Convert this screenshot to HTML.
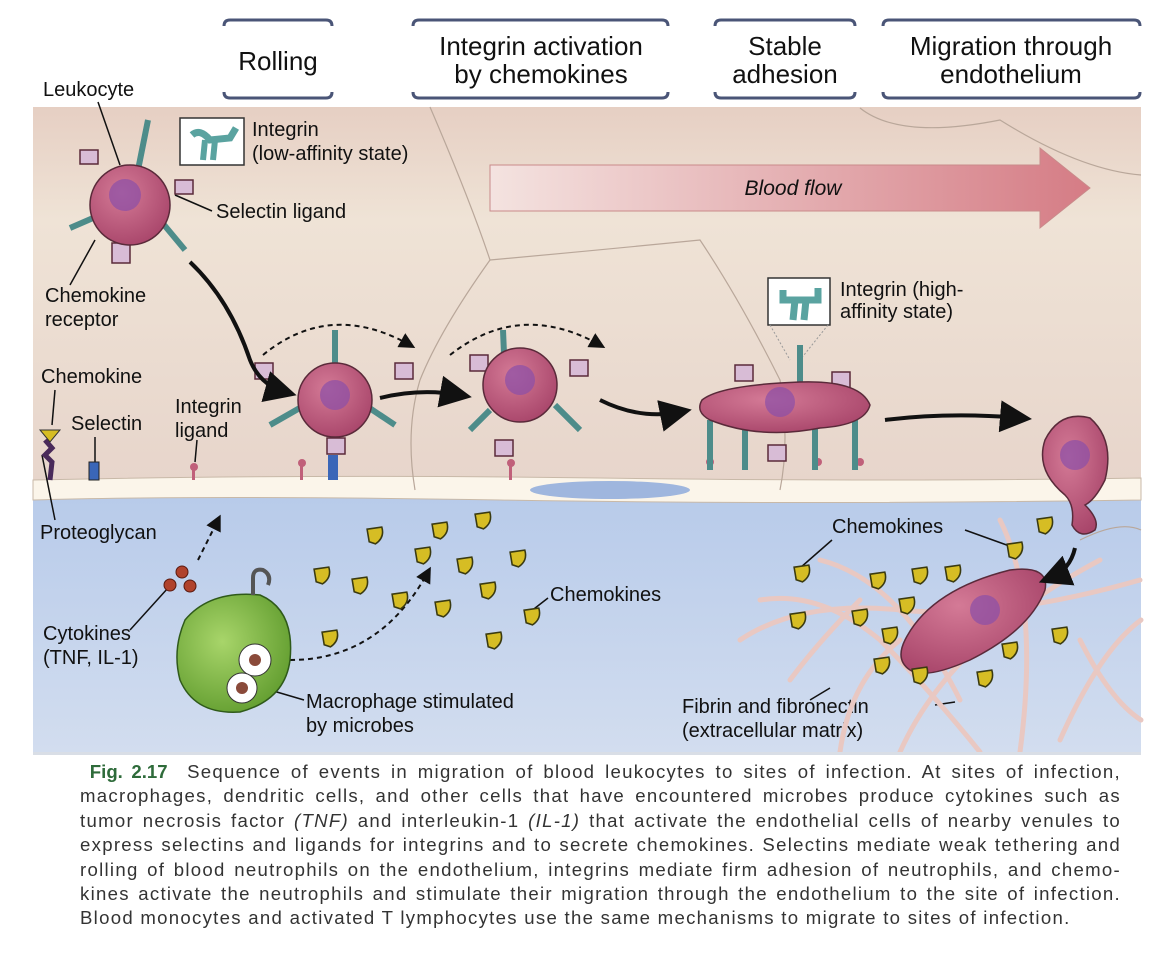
<!DOCTYPE html>
<html><head><meta charset="utf-8"><style>
body{margin:0;background:#fff;width:1152px;height:958px;overflow:hidden;font-family:"Liberation Sans",sans-serif}
svg{position:absolute;left:0;top:0}
.cap{position:absolute;left:80px;top:760px;width:1041px;font-size:18.6px;letter-spacing:1.28px;line-height:24.4px;color:#333}
.cap div{text-align:justify;text-align-last:justify;white-space:nowrap}
.cap div.l{text-align-last:left}
.cap b{color:#2e6b3a;letter-spacing:0}
</style></head><body>
<svg width="1152" height="958" viewBox="0 0 1152 958" font-family="Liberation Sans, sans-serif">
<defs>
<linearGradient id="lum" x1="0" y1="0" x2="0" y2="1"><stop offset="0" stop-color="#e6cfc3"/><stop offset="0.3" stop-color="#efe3d6"/><stop offset="1" stop-color="#e7d5cb"/></linearGradient>
<linearGradient id="tis" x1="0" y1="0" x2="0" y2="1"><stop offset="0" stop-color="#b8cbea"/><stop offset="1" stop-color="#d2ddef"/></linearGradient>
<linearGradient id="flow" x1="0" y1="0" x2="1" y2="0"><stop offset="0" stop-color="#f4e3e0"/><stop offset="1" stop-color="#d57c85"/></linearGradient>
<radialGradient id="cell" cx="0.4" cy="0.35" r="0.7"><stop offset="0" stop-color="#d47a96"/><stop offset="1" stop-color="#a8456a"/></radialGradient>
<radialGradient id="mac" cx="0.4" cy="0.4" r="0.7"><stop offset="0" stop-color="#a8d56a"/><stop offset="1" stop-color="#5e9a2c"/></radialGradient>
<symbol id="ck" viewBox="0 0 20 20"><path d="M2 4 L16 2 Q19 12 10 18 L4 16 Z" fill="#d6bd24" stroke="#3a3a10" stroke-width="1.5"/></symbol>
<marker id="ah" markerWidth="8" markerHeight="8" refX="5" refY="4" orient="auto"><path d="M0 0 L8 4 L0 8 Z" fill="#111"/></marker>
</defs>
<g fill="none" stroke="#4a5577" stroke-width="3">
<path d="M224 26 Q224 20 230 20 L326 20 Q332 20 332 26"/><path d="M224 92 Q224 98 230 98 L326 98 Q332 98 332 92"/>
<path d="M413 26 Q413 20 419 20 L662 20 Q668 20 668 26"/><path d="M413 92 Q413 98 419 98 L662 98 Q668 98 668 92"/>
<path d="M715 26 Q715 20 721 20 L849 20 Q855 20 855 26"/><path d="M715 92 Q715 98 721 98 L849 98 Q855 98 855 92"/>
<path d="M883 26 Q883 20 889 20 L1134 20 Q1140 20 1140 26"/><path d="M883 92 Q883 98 889 98 L1134 98 Q1140 98 1140 92"/>
</g>
<g font-size="26" fill="#111" text-anchor="middle">
<text x="278" y="70">Rolling</text>
<text x="541" y="55">Integrin activation</text><text x="541" y="83">by chemokines</text>
<text x="785" y="55">Stable</text><text x="785" y="83">adhesion</text>
<text x="1011" y="55">Migration through</text><text x="1011" y="83">endothelium</text>
</g>
<rect x="33" y="107" width="1108" height="375" fill="url(#lum)"/>
<rect x="33" y="498" width="1108" height="254" fill="url(#tis)"/>
<path d="M33 480 Q300 474 600 478 T1141 478 L1141 500 Q800 505 500 500 T33 500 Z" fill="#fbf5ea" stroke="#c8b9a8"/>
<ellipse cx="610" cy="490" rx="80" ry="9" fill="#9fb6de"/>
<g fill="none" stroke="#b9a79a" stroke-width="1.2">
<path d="M430 107 Q470 200 490 260 Q440 330 420 380 Q405 430 415 490"/>
<path d="M490 260 Q600 250 700 240 Q740 300 780 380 Q790 440 780 490"/>
<path d="M860 108 Q900 140 1000 120 Q1080 170 1141 175"/>
<path d="M1080 540 Q1120 520 1141 530"/>
</g>
<path d="M490 165 L1040 165 L1040 148 L1090 188 L1040 228 L1040 211 L490 211 Z" fill="url(#flow)" stroke="#c98a8a"/>
<text x="793" y="195" font-size="21" font-style="italic" text-anchor="middle" fill="#111">Blood flow</text>
<rect x="180" y="118" width="64" height="47" fill="#fff" stroke="#333" stroke-width="1.5"/>
<path d="M192 135 Q200 128 210 140 L230 138 L236 128" fill="none" stroke="#5aa3a0" stroke-width="7"/>
<path d="M205 140 L203 160 M215 140 L213 160" stroke="#5aa3a0" stroke-width="6"/>
<rect x="768" y="278" width="62" height="47" fill="#fff" stroke="#333" stroke-width="1.5"/>
<path d="M783 290 L783 300 L818 300 L818 288 M795 300 L793 320 M806 300 L804 320" fill="none" stroke="#5aa3a0" stroke-width="7"/>
<path d="M770 325 L790 360 M828 325 L800 360" stroke="#999" stroke-dasharray="2 2"/>
<g font-size="20" fill="#111">
<text x="252" y="136">Integrin</text><text x="252" y="160">(low-affinity state)</text>
<text x="840" y="296">Integrin (high-</text><text x="840" y="318">affinity state)</text>
<text x="43" y="96">Leukocyte</text>
<text x="216" y="218">Selectin ligand</text>
<text x="45" y="302">Chemokine</text><text x="45" y="326">receptor</text>
<text x="41" y="383">Chemokine</text>
<text x="71" y="430">Selectin</text>
<text x="175" y="413">Integrin</text><text x="175" y="437">ligand</text>
<text x="40" y="539">Proteoglycan</text>
<text x="43" y="640">Cytokines</text><text x="43" y="664">(TNF, IL-1)</text>
<text x="306" y="708">Macrophage stimulated</text><text x="306" y="732">by microbes</text>
<text x="550" y="601">Chemokines</text>
<text x="832" y="533">Chemokines</text>
<text x="682" y="713">Fibrin and fibronectin</text><text x="682" y="737">(extracellular matrix)</text>
</g>
<g stroke="#111" stroke-width="1.5" fill="none">
<path d="M98 102 L120 165"/><path d="M175 195 L212 211"/><path d="M95 240 L70 285"/>
<path d="M55 390 L52 425"/><path d="M95 437 L95 462"/><path d="M197 440 L195 462"/>
<path d="M42 455 L55 520"/><path d="M168 588 L130 630"/><path d="M270 690 L304 700"/>
<path d="M548 598 L530 612"/><path d="M832 540 L800 568"/><path d="M965 530 L1015 548"/>
<path d="M810 700 L830 688"/><path d="M935 705 L955 702"/>
</g>
<g fill="none" stroke="#e9c8c2" stroke-width="5" stroke-linecap="round">
<path d="M740 640 Q800 600 900 610 Q1000 620 1140 580"/><path d="M760 600 Q820 590 880 640 Q930 690 980 752"/>
<path d="M820 560 Q900 580 960 700"/><path d="M1000 520 Q1040 600 1020 752"/><path d="M900 752 Q950 640 1100 560"/>
<path d="M840 752 Q850 680 900 640"/><path d="M1060 740 Q1100 650 1141 620"/><path d="M790 680 Q820 640 860 600"/>
<path d="M1080 640 Q1110 700 1141 720"/>
</g>
<rect x="89" y="462" width="10" height="18" fill="#3a66b8" stroke="#222"/>
<rect x="328" y="455" width="10" height="25" fill="#3a66b8"/>
<g fill="#c0607a"><circle cx="194" cy="467" r="4"/><rect x="192" y="468" width="3" height="12"/><circle cx="302" cy="463" r="4"/><rect x="300" y="463" width="3" height="17"/><circle cx="511" cy="463" r="4"/><rect x="509" y="463" width="3" height="17"/><circle cx="710" cy="462" r="4"/><circle cx="818" cy="462" r="4"/><circle cx="860" cy="462" r="4"/></g>
<path d="M45 440 L52 448 L45 455 L52 462 L50 480" fill="none" stroke="#4a2a5a" stroke-width="5"/>
<path d="M40 430 L60 430 L50 442 Z" fill="#d6bd24" stroke="#333"/>
<g stroke="#5a2a3a" stroke-width="1.5">
<g stroke="#4d8c8a" stroke-width="6" fill="none">
<path d="M138 170 L148 120"/><path d="M100 215 L70 228"/><path d="M160 220 L185 250"/>
<path d="M335 380 L335 330"/><path d="M305 405 L270 425"/><path d="M365 405 L395 425"/>
<path d="M505 378 L503 330"/><path d="M490 410 L470 430"/><path d="M555 405 L580 430"/>
<path d="M710 420 L710 470"/><path d="M745 420 L745 470"/><path d="M815 420 L815 470"/><path d="M855 420 L855 470"/><path d="M800 390 L800 345"/>
</g>
<g fill="#d8bcd6"><rect x="112" y="243" width="18" height="20"/><rect x="175" y="180" width="18" height="14"/><rect x="80" y="150" width="18" height="14"/><rect x="327" y="438" width="18" height="16"/><rect x="255" y="363" width="18" height="16"/><rect x="395" y="363" width="18" height="16"/><rect x="495" y="440" width="18" height="16"/><rect x="570" y="360" width="18" height="16"/><rect x="470" y="355" width="18" height="16"/><rect x="735" y="365" width="18" height="16"/><rect x="832" y="372" width="18" height="16"/><rect x="768" y="445" width="18" height="16"/></g>
<circle cx="130" cy="205" r="40" fill="url(#cell)"/>
<circle cx="335" cy="400" r="37" fill="url(#cell)"/>
<circle cx="520" cy="385" r="37" fill="url(#cell)"/>
<path d="M702 400 Q720 385 800 382 Q860 380 870 405 Q865 425 820 428 Q760 440 710 420 Q695 412 702 400 Z" fill="url(#cell)"/>
<path d="M1045 440 Q1060 410 1090 418 Q1115 440 1105 480 Q1095 500 1085 505 Q1100 520 1095 530 Q1080 540 1072 525 Q1075 505 1065 495 Q1035 470 1045 440 Z" fill="url(#cell)"/>
<path d="M905 640 Q930 590 1010 570 Q1050 565 1045 590 Q1030 630 970 660 Q925 680 910 670 Q895 660 905 640 Z" fill="url(#cell)"/>
</g>
<g fill="#8a4fa8" opacity="0.7"><circle cx="125" cy="195" r="16"/><circle cx="335" cy="395" r="15"/><circle cx="520" cy="380" r="15"/><circle cx="780" cy="402" r="15"/><circle cx="1075" cy="455" r="15"/><circle cx="985" cy="610" r="15"/></g>
<g fill="none" stroke="#111" stroke-width="4" marker-end="url(#ah)">
<path d="M190 262 Q230 300 250 360 Q260 385 285 392"/>
<path d="M380 398 Q420 388 460 395"/>
<path d="M600 400 Q640 420 680 412"/>
<path d="M885 420 Q950 412 1020 418"/>
<path d="M1075 548 Q1070 570 1050 578"/>
</g>
<g fill="none" stroke="#111" stroke-width="2" stroke-dasharray="5 4" marker-end="url(#ah)">
<path d="M263 355 Q330 300 410 345"/><path d="M450 355 Q520 300 600 345"/>
<path d="M290 660 Q380 660 428 572"/><path d="M198 560 L218 520"/>
</g>
<path d="M185 620 Q210 590 260 595 Q295 610 290 660 Q285 700 240 712 Q195 715 180 680 Q172 650 185 620 Z" fill="url(#mac)" stroke="#2f5a1a" stroke-width="1.5"/>
<circle cx="255" cy="660" r="16" fill="#fff" stroke="#333"/><circle cx="242" cy="688" r="15" fill="#fff" stroke="#333"/>
<circle cx="255" cy="660" r="6" fill="#8a4a3a"/><circle cx="242" cy="688" r="6" fill="#8a4a3a"/>
<path d="M253 595 L253 578 Q253 568 263 570 Q272 575 268 585" fill="none" stroke="#555" stroke-width="4"/>
<g fill="#b0422c" stroke="#5a1a10"><circle cx="170" cy="585" r="6"/><circle cx="182" cy="572" r="6"/><circle cx="190" cy="586" r="6"/></g>
<g>
<use href="#ck" x="312" y="565" width="21" height="21"/><use href="#ck" x="350" y="575" width="21" height="21"/><use href="#ck" x="320" y="628" width="21" height="21"/>
<use href="#ck" x="365" y="525" width="21" height="21"/><use href="#ck" x="413" y="545" width="21" height="21"/><use href="#ck" x="430" y="520" width="21" height="21"/>
<use href="#ck" x="455" y="555" width="21" height="21"/><use href="#ck" x="473" y="510" width="21" height="21"/><use href="#ck" x="478" y="580" width="21" height="21"/>
<use href="#ck" x="508" y="548" width="21" height="21"/><use href="#ck" x="433" y="598" width="21" height="21"/><use href="#ck" x="390" y="590" width="21" height="21"/>
<use href="#ck" x="522" y="606" width="21" height="21"/><use href="#ck" x="484" y="630" width="21" height="21"/>
<use href="#ck" x="792" y="563" width="21" height="21"/><use href="#ck" x="1005" y="540" width="21" height="21"/><use href="#ck" x="1035" y="515" width="21" height="21"/>
<use href="#ck" x="868" y="570" width="21" height="21"/><use href="#ck" x="910" y="565" width="21" height="21"/><use href="#ck" x="943" y="563" width="21" height="21"/>
<use href="#ck" x="897" y="595" width="21" height="21"/><use href="#ck" x="850" y="607" width="21" height="21"/><use href="#ck" x="788" y="610" width="21" height="21"/>
<use href="#ck" x="880" y="625" width="21" height="21"/><use href="#ck" x="872" y="655" width="21" height="21"/><use href="#ck" x="910" y="665" width="21" height="21"/>
<use href="#ck" x="975" y="668" width="21" height="21"/><use href="#ck" x="1000" y="640" width="21" height="21"/><use href="#ck" x="1050" y="625" width="21" height="21"/>
</g>
<rect x="33" y="752" width="1108" height="3" fill="#d9dee6"/>
</svg>
<div class="cap">
<div>&nbsp;<b>Fig. 2.17</b>&nbsp; Sequence of events in migration of blood leukocytes to sites of infection. At sites of infection,</div>
<div>macrophages, dendritic cells, and other cells that have encountered microbes produce cytokines such as</div>
<div>tumor necrosis factor <i>(TNF)</i> and interleukin-1 <i>(IL-1)</i> that activate the endothelial cells of nearby venules to</div>
<div>express selectins and ligands for integrins and to secrete chemokines. Selectins mediate weak tethering and</div>
<div>rolling of blood neutrophils on the endothelium, integrins mediate firm adhesion of neutrophils, and chemo-</div>
<div>kines activate the neutrophils and stimulate their migration through the endothelium to the site of infection.</div>
<div class="l">Blood monocytes and activated T lymphocytes use the same mechanisms to migrate to sites of infection.</div>
</div>
</body></html>
